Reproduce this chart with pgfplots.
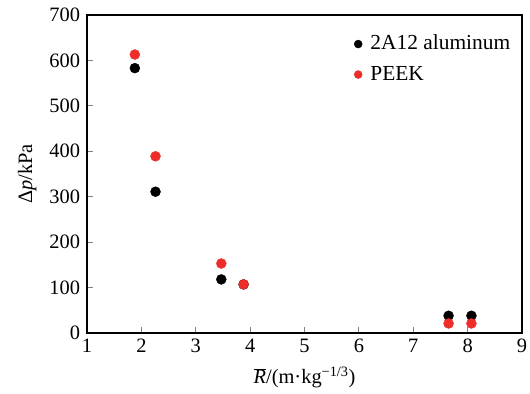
\documentclass[border=0pt]{standalone}
\usepackage{pgfplots}
\pgfplotsset{compat=1.18}
\usepackage{fontspec}
\setmainfont{Liberation Serif}
\definecolor{myred}{RGB}{236,45,42}
\begin{document}
\fontsize{20.5}{24}\selectfont
\begin{tikzpicture}
\useasboundingbox (-87bp,-61bp) rectangle (443bp,333bp);
\begin{axis}[
  at={(0,0)}, anchor=south west,
  scale only axis, width=435bp, height=318bp,
  xmin=1, xmax=9, ymin=0, ymax=700,
  xtick={1,2,...,9}, ytick={0,100,...,700},
  tick pos=left, tick align=inside, major tick length=6bp,
  /pgf/number format/assume math mode=true,
  tick label style={font=\fontsize{20.5}{24}\selectfont},
  xticklabel style={yshift=1bp},
  axis line style={line width=1.3bp}, major tick style={line width=1.1bp},
  xlabel={$\overline{\mbox{\textit{R}}}$/(m·kg\textsuperscript{−1/3})},
  ylabel={Δ\textit{p}/kPa},
  label style={font=\fontsize{20.5}{24}\selectfont},
  xlabel style={yshift=0bp},
  ylabel style={yshift=-1bp},
  legend style={draw=none, fill=none, at={(0.6065,0.95)}, anchor=north west,
    font=\fontsize{21.5}{24}\selectfont, row sep=9bp},
  legend cell align=left,
  clip=false,
]
\addplot[only marks, mark=*, mark size=5bp, black,
  legend image code/.code={\path (10bp,0); \fill[black] (0,0) circle (4bp);}]
  coordinates {(1.88,583) (2.26,311) (3.47,118) (3.88,107) (7.65,38) (8.07,38)};
\addlegendentry{2A12 aluminum}
\addplot[only marks, mark=*, mark size=5bp, myred, draw=myred, fill=myred,
  legend image code/.code={\path (10bp,0); \fill[myred] (0,0) circle (4bp);}]
  coordinates {(1.88,613) (2.26,389) (3.47,153) (3.88,107) (7.65,21) (8.07,21)};
\addlegendentry{PEEK}
\end{axis}
\end{tikzpicture}
\end{document}
